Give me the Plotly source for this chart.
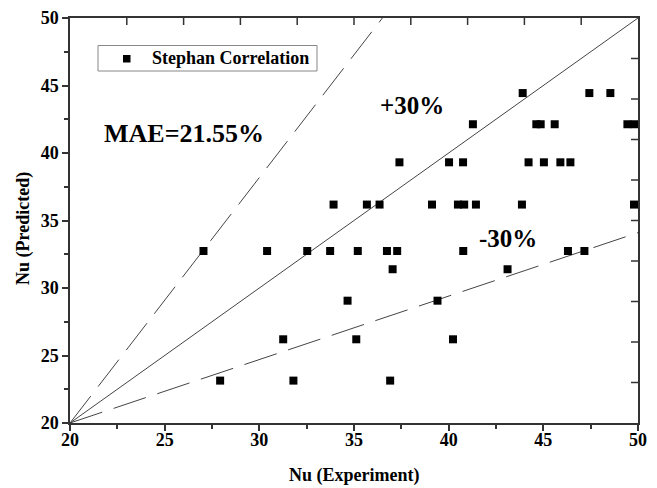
import plotly.graph_objects as go

# ---- data ----
nu_experiment = [
    43.91, 47.43, 48.54,
    41.28, 44.63, 44.86, 45.60, 49.44, 49.81,
    37.40, 40.02, 40.76, 44.22, 45.03, 45.90, 46.43,
    33.92, 35.68, 36.35, 39.12, 40.49, 40.82, 41.44, 43.87, 49.79,
    27.05, 30.41, 32.53, 33.74, 35.20, 36.74, 37.28, 40.77, 46.30, 47.17,
    37.04, 43.11,
    34.66, 39.41,
    31.26, 35.12, 40.23,
    27.93, 31.80, 36.91,
]
nu_predicted = (
    [44.44] * 3 + [42.13] * 6 + [39.31] * 7 + [36.18] * 9 + [32.74] * 10
    + [31.39] * 2 + [29.06] * 2 + [26.20] * 3 + [23.14] * 3
)

diag_x = [20, 50]
diag_y = [20, 50]
upper_x = [20, 36.5]
upper_y = [20, 50]
lower_x = [20, 50]
lower_y = [20, 34.1]

# tick positions of the top / right frame (inward ticks every 3 units)
frame_tick_vals = [23, 26, 29, 32, 35, 38, 41, 44, 47]
axis_min, axis_max = 20, 50

series_name = "Stephan Correlation"
mae_label = "MAE=21.55%"
plus_label = "+30%"
minus_label = "-30%"
x_title = "Nu (Experiment)"
y_title = "Nu (Predicted)"

SERIF = "Liberation Serif, Times New Roman, serif"
LINE_C = "#444444"
AX_C = "#333333"

# plot-area geometry (pixels) used to place paper-referenced items
L, R, T, B = 70, 19, 18, 65
W, H = 657, 488
PW, PH = W - L - R, H - T - B
X_UNITS_PER_PX = (axis_max - axis_min) / PW
Y_UNITS_PER_PX = (axis_max - axis_min) / PH
FRAME_TICK_PX = 7


def px_to_paper(px, py):
    return (px - L) / PW, (H - B - py) / PH


fig = go.Figure()

fig.add_trace(go.Scatter(x=diag_x, y=diag_y, mode="lines",
                         line=dict(color=LINE_C, width=1), showlegend=False, hoverinfo="skip"))
fig.add_trace(go.Scatter(x=upper_x, y=upper_y, mode="lines",
                         line=dict(color=LINE_C, width=1, dash="34px,12px"), showlegend=False, hoverinfo="skip"))
fig.add_trace(go.Scatter(x=lower_x, y=lower_y, mode="lines",
                         line=dict(color=LINE_C, width=1, dash="34px,12px"), showlegend=False, hoverinfo="skip"))
fig.add_trace(go.Scatter(x=nu_experiment, y=nu_predicted, mode="markers", name=series_name,
                         marker=dict(symbol="square", size=8, color="black"), showlegend=False))

# inward frame ticks on the top and right edges, drawn as one-sided error bars
n = len(frame_tick_vals)
fig.add_trace(go.Scatter(
    x=frame_tick_vals, y=[axis_max] * n, mode="markers",
    marker=dict(size=1, color="rgba(0,0,0,0)"),
    error_y=dict(type="data", symmetric=False, array=[0] * n,
                 arrayminus=[FRAME_TICK_PX * Y_UNITS_PER_PX] * n,
                 color=AX_C, thickness=1.5, width=0),
    cliponaxis=False, showlegend=False, hoverinfo="skip"))
fig.add_trace(go.Scatter(
    x=[axis_max] * n, y=frame_tick_vals, mode="markers",
    marker=dict(size=1, color="rgba(0,0,0,0)"),
    error_x=dict(type="data", symmetric=False, array=[0] * n,
                 arrayminus=[FRAME_TICK_PX * X_UNITS_PER_PX] * n,
                 color=AX_C, thickness=1.5, width=0),
    cliponaxis=False, showlegend=False, hoverinfo="skip"))

tickfont = dict(family=SERIF, size=18, color="black", weight="bold")
axis_common = dict(range=[axis_min, axis_max], showgrid=False, zeroline=False, showline=True,
                   mirror=True, linecolor=AX_C, linewidth=1.5, automargin=False, fixedrange=True,
                   tickmode="linear", tick0=20, dtick=5, ticks="outside", ticklen=6,
                   tickwidth=1.5, tickcolor=AX_C, tickfont=tickfont,
                   minor=dict(dtick=2.5, ticks="outside", ticklen=4, tickwidth=1.5, tickcolor=AX_C))

fig.update_layout(
    width=W, height=H,
    margin=dict(l=L, r=R, t=T, b=B),
    paper_bgcolor="white", plot_bgcolor="white",
    font=dict(family=SERIF, color="black"),
    showlegend=False,
    xaxis=dict(**axis_common, ticklabelstandoff=-6),
    yaxis=dict(**axis_common),
)

title_font = dict(family=SERIF, size=18, weight="bold", color="black")
# axis titles
tx, ty = px_to_paper(23, 229)
fig.add_annotation(xref="paper", yref="paper", x=tx, y=ty, xanchor="center", yanchor="middle",
                   text=y_title, textangle=-90, showarrow=False, font=title_font)
tx, ty = px_to_paper(354, 475)
fig.add_annotation(xref="paper", yref="paper", x=tx, y=ty, xanchor="center", yanchor="middle",
                   text=x_title, showarrow=False, font=title_font)

# legend box (drawn by hand to match the original's compact frame)
bx0, by0 = px_to_paper(98, 71)
bx1, by1 = px_to_paper(317, 45.5)
fig.add_shape(type="rect", xref="paper", yref="paper", x0=bx0, y0=by0, x1=bx1, y1=by1,
              line=dict(color="#888888", width=1), fillcolor="white", layer="above")
mx0, my0 = px_to_paper(123, 62.5)
mx1, my1 = px_to_paper(130.5, 55)
fig.add_shape(type="rect", xref="paper", yref="paper", x0=mx0, y0=my0, x1=mx1, y1=my1,
              line=dict(width=0), fillcolor="black", layer="above")
lx, ly = px_to_paper(150, 58.5)
fig.add_annotation(xref="paper", yref="paper", x=lx, y=ly, xanchor="left", yanchor="middle",
                   text=series_name, showarrow=False, font=title_font)

ann_font_big = dict(family=SERIF, size=26, color="black", weight="bold")
ann_font = dict(family=SERIF, size=25, color="black", weight="bold")
fig.add_annotation(x=26.03, y=41.46, text=mae_label, showarrow=False, font=ann_font_big)
fig.add_annotation(x=38.05, y=43.53, text=plus_label, showarrow=False, font=ann_font)
fig.add_annotation(x=43.12, y=33.7, text=minus_label, showarrow=False, font=ann_font)

fig.write_html("out.html")
